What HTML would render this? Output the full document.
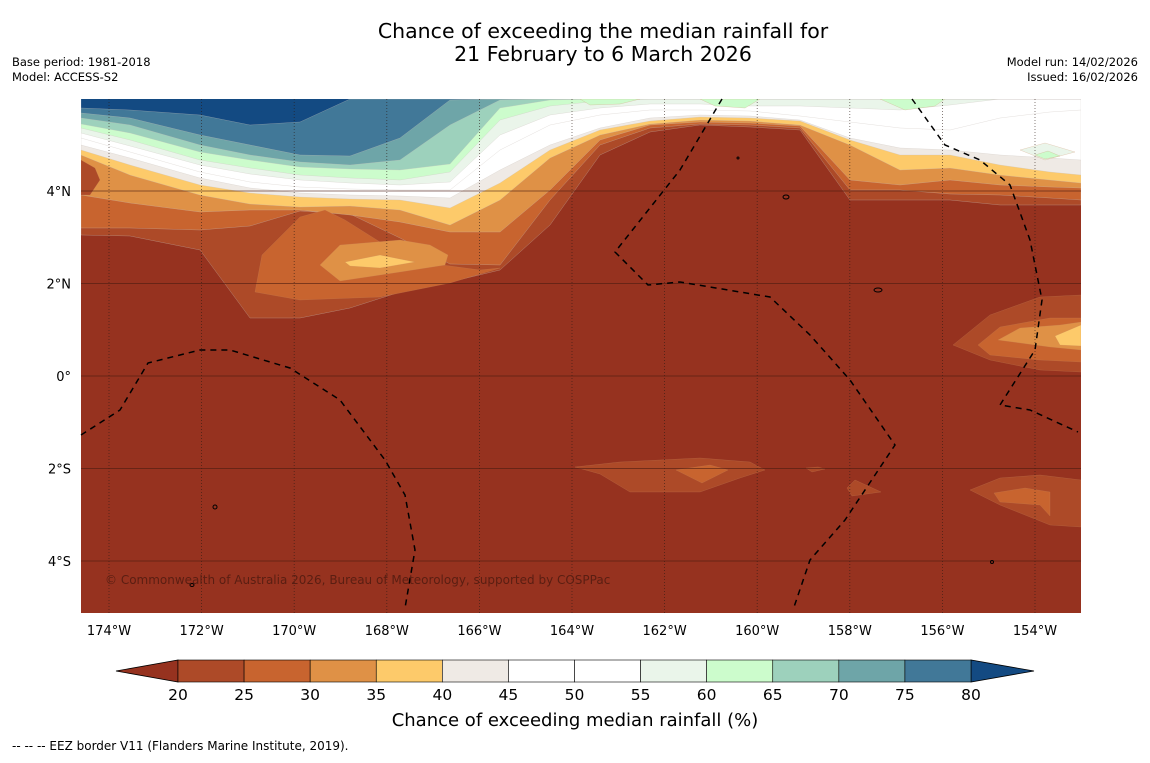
<!DOCTYPE html>
<html><head><meta charset="utf-8">
<style>
body{margin:0;background:#fff;width:1150px;height:758px;overflow:hidden;font-family:"Liberation Sans","DejaVu Sans",sans-serif;}
svg text{font-family:"DejaVu Sans","Liberation Sans",sans-serif;}
</style></head>
<body>
<svg id="chart" width="1150" height="758" viewBox="0 0 1150 758">
<rect width="1150" height="758" fill="#fff"/>
<text x="603" y="38" font-size="20.5" text-anchor="middle">Chance of exceeding the median rainfall for</text>
<text x="603" y="61" font-size="20.5" text-anchor="middle">21 February to 6 March 2026</text>
<text x="12" y="66" font-size="11.5">Base period: 1981-2018</text>
<text x="12" y="81" font-size="11.5">Model: ACCESS-S2</text>
<text x="1138" y="66" font-size="11.5" text-anchor="end">Model run: 14/02/2026</text>
<text x="1138" y="81" font-size="11.5" text-anchor="end">Issued: 16/02/2026</text>
<defs><clipPath id="plotclip"><rect x="81" y="99" width="1000" height="514"/></clipPath></defs>
<g id="map" clip-path="url(#plotclip)"></g>
<g id="grid"></g>
<g id="eez"></g>
<text x="105" y="584" font-size="12" fill="#5a1e12">© Commonwealth of Australia 2026, Bureau of Meteorology, supported by COSPPac</text>
<g id="axes"></g>
<g id="cbar"></g>
<text x="575" y="726" font-size="18" text-anchor="middle">Chance of exceeding median rainfall (%)</text>
<text x="12" y="750" font-size="12">--  --  -- EEZ border V11 (Flanders Marine Institute, 2019).</text>
</svg>
<script>
const levels=[20,25,30,35,40,45,50,55,60,65,70,75,80];
const binColors=["#ad4a28","#c8642f","#df9146","#fdca6a","#efeae5","#ffffff","#ffffff","#eaf5ea","#ccfccc","#9dd1bc","#6ea5a8","#417898"];
const underColor="#96321f", overColor="#134a82";
const lonTicks=[-174,-172,-170,-168,-166,-164,-162,-160,-158,-156,-154];
const latTicks=[4,2,0,-2,-4];
const latLabels=["4°N","2°N","0°","2°S","4°S"];
const NS="http://www.w3.org/2000/svg";
const xLon=l=>109+(l+174)*46.3;
const yLat=l=>376-l*46.25;
function mk(t,a,p){const e=document.createElementNS(NS,t);for(const k in a)e.setAttribute(k,a[k]);p.appendChild(e);return e;}
const map=document.getElementById('map');
let b=mk('rect',{x:81,y:99,width:1000,height:514,fill:underColor},map);


const xs=[81,130,200,250,300,350,400,450,500,550,600,650,700,750,800,850,900,950,1000,1050,1081];
const curves={
20:[235,236,250,318,318,308,292,282,270,225,155,132,125,127,130,200,200,200,205,205,205],
25:[228,228,230,226,211,214,238,264,265,200,145,128,124,125,128,190,190,194,195,198,200],
30:[195,203,212,210,210,215,222,232,232,190,140,125,122,123,126,180,185,180,185,187,188],
35:[155,175,195,204,207,206,210,225,200,158,135,124,120,121,125,145,170,168,175,180,183],
40:[150,165,185,193,197,199,200,208,183,150,130,121,117,118,121,140,155,155,165,172,175],
45:[145,158,178,188,193,195,196,198,170,145,128,118,115,116,120,138,148,150,155,158,160],
50:[138,152,172,182,187,189,190,190,150,125,115,110,110,111,116,122,128,130,118,112,110],
55:[133,146,165,174,180,183,185,182,135,115,108,104,104,106,106,108,110,105,99,99,99],
60:[128,140,160,168,175,178,180,172,120,106,101,99,99,99,99,99,99,99,99,99,99],
65:[124,133,152,160,167,169,170,164,108,100,99,99,99,99,99,99,99,99,99,99,99],
70:[118,125,145,155,162,165,160,125,100,99,99,99,99,99,99,99,99,99,99,99,99],
75:[113,118,135,145,155,156,138,100,99,99,99,99,99,99,99,99,99,99,99,99,99],
80:[108,110,115,125,122,99,99,99,99,99,99,99,99,99,99,99,99,99,99,99,99]};
levels.forEach((lv,i)=>{
  const ys=curves[lv];
  let d='M81,95 ';
  xs.forEach((x,j)=>{d+='L'+x+','+ys[j]+' ';});
  d+='L1081,95 Z';
  const col=i<binColors.length?binColors[i]:overColor;
  const p=mk('path',{d:d,fill:col,stroke:'#c9c2bb','stroke-width':0.5,'stroke-opacity':0.5},map);
  
  
});
const blobs=[
 [0,"81,160 95,168 100,180 90,195 81,195"],
 [1,"255,292 262,255 300,217 325,210 345,220 380,242 420,262 480,270 500,268 450,283 380,297 300,300"],
 [2,"320,265 340,245 400,240 430,245 448,255 445,265 400,272 340,281"],
 [3,"345,262 380,255 415,262 380,268 350,266"],
 [8,"580,99 640,99 620,104 590,105"],
 [8,"700,99 760,99 745,108 715,106"],
 [8,"880,99 945,99 935,106 905,110"],
 [7,"1020,150 1045,143 1075,152 1045,160"],
 [8,"1035,155 1048,151 1060,156 1045,159"],
 [0,"953,345 990,315 1040,297 1081,295 1081,372 1040,370 990,360"],
 [1,"978,345 1000,327 1050,318 1081,318 1081,362 1040,360 990,355"],
 [2,"998,340 1020,328 1060,325 1081,322 1081,350 1050,347"],
 [3,"1055,336 1081,325 1081,346 1060,345"],
 [0,"575,467 620,462 700,458 750,462 765,470 740,478 700,492 630,492 600,474"],
 [1,"676,470 710,465 728,470 702,483"],
 [0,"806,468 818,467 825,469 812,472"],
 [0,"847,488 855,480 881,492 852,496"],
 [0,"970,490 1000,478 1040,475 1081,480 1081,527 1050,525 1000,505"],
 [1,"994,493 1025,488 1050,492 1050,516 1040,505 1000,502"]];
blobs.forEach((bl,i)=>{
  const p=mk('polygon',{points:bl[1],fill:binColors[bl[0]],stroke:'#c98a60','stroke-width':0.4,'stroke-opacity':0.5},map);
  
  
});
const grid=document.getElementById('grid');
lonTicks.forEach(l=>{const x=xLon(l);
  const e=mk('line',{x1:x,y1:99,x2:x,y2:613,stroke:'#2a1a14','stroke-width':0.8,'stroke-dasharray':'1,2','stroke-opacity':0.7},grid);
  
  });
latTicks.forEach(l=>{const y=yLat(l);
  const e=mk('line',{x1:81,y1:y,x2:1081,y2:y,stroke:'#4a1a10','stroke-width':0.9,'stroke-opacity':0.6},grid);
  
  });
const eez=document.getElementById('eez');
["81,435 120,410 148,363 200,350 230,350 290,368 340,400 385,460 405,495 415,550 405,608",
 "722,99 680,170 615,252 648,285 680,282 770,297 810,335 850,380 895,445 845,520 810,560 793,610",
 "912,99 945,145 980,160 1010,185 1030,240 1042,300 1035,350 1000,405 1030,410 1078,432"].forEach((pts,i)=>{
  const e=mk('polyline',{points:pts,fill:'none',stroke:'#000','stroke-width':1.5,'stroke-dasharray':'6,5'},eez);
  
  });
[[786,197,3,2],[878,290,4,2],[215,507,2,2],[192,585,2,1.5],[992,562,1.5,1.5],[738,158,1,1]].forEach((c,i)=>{
  const e=mk('ellipse',{cx:c[0],cy:c[1],rx:c[2],ry:c[3],fill:'none',stroke:'#000','stroke-width':1},eez);
  
  });
const axes=document.getElementById('axes');
lonTicks.forEach(l=>{
  const t=mk('text',{x:xLon(l),y:635,'font-size':13,'text-anchor':'middle'},axes);
  t.textContent=Math.abs(l)+'°W';
  
  });
latTicks.forEach((l,i)=>{
  const t=mk('text',{x:71,y:yLat(l)+5,'font-size':13,'text-anchor':'end'},axes);
  t.textContent=latLabels[i];
  
  });
const cb=document.getElementById('cbar');
const cx0=178,cx1=971,cy=660,ch=22,bw=(cx1-cx0)/binColors.length;
let u=mk('polygon',{points:`116,${cy+ch/2} ${cx0},${cy} ${cx0},${cy+ch}`,fill:underColor,stroke:'#000','stroke-width':0.8},cb);


let o=mk('polygon',{points:`1034,${cy+ch/2} ${cx1},${cy} ${cx1},${cy+ch}`,fill:overColor,stroke:'#000','stroke-width':0.8},cb);


binColors.forEach((c,i)=>{
  const r=mk('rect',{x:cx0+i*bw,y:cy,width:bw,height:ch,fill:c,stroke:'#000','stroke-width':0.6},cb);
  
  });
levels.forEach((lv,i)=>{
  const t=mk('text',{x:cx0+i*bw,y:700,'font-size':15.5,'text-anchor':'middle'},cb);
  t.textContent=lv;
  
  });
</script>
</body></html>
